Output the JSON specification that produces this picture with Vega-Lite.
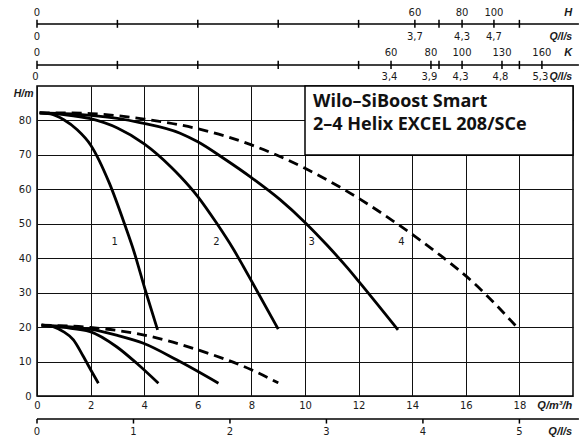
{
  "$schema": "https://vega.github.io/schema/vega-lite/v6.json",
  "width": 536,
  "height": 310,
  "autosize": {"type": "none"},
  "padding": {"left": 37, "top": 86, "right": 6, "bottom": 45},
  "background": "white",
  "config": {
    "view": {"stroke": "#000", "strokeWidth": 1.5},
    "font": "DejaVu Sans",
    "text": {"font": "DejaVu Sans", "fontSize": 10, "color": "#1a1a1a"}
  },
  "resolve": {"axis": {"x": "independent", "y": "independent"}},
  "datasets": {
    "curves": [
      {"curve": "1", "dashed": false, "x": 0.1, "y": 82.2},
      {"curve": "1", "dashed": false, "x": 0.5, "y": 81.9},
      {"curve": "1", "dashed": false, "x": 1.0, "y": 80.2},
      {"curve": "1", "dashed": false, "x": 1.5, "y": 77.3},
      {"curve": "1", "dashed": false, "x": 2.0, "y": 72.9},
      {"curve": "1", "dashed": false, "x": 2.7, "y": 61.8},
      {"curve": "1", "dashed": false, "x": 3.3, "y": 49.2},
      {"curve": "1", "dashed": false, "x": 3.6, "y": 42.4},
      {"curve": "1", "dashed": false, "x": 4.03, "y": 31.0},
      {"curve": "1", "dashed": false, "x": 4.5, "y": 19.2},
      {"curve": "2", "dashed": false, "x": 0.1, "y": 82.2},
      {"curve": "2", "dashed": false, "x": 1.0, "y": 81.7},
      {"curve": "2", "dashed": false, "x": 2.0, "y": 80.5},
      {"curve": "2", "dashed": false, "x": 3.0, "y": 77.8},
      {"curve": "2", "dashed": false, "x": 4.0, "y": 73.2},
      {"curve": "2", "dashed": false, "x": 5.0, "y": 66.5},
      {"curve": "2", "dashed": false, "x": 5.34, "y": 63.8},
      {"curve": "2", "dashed": false, "x": 6.0, "y": 57.9},
      {"curve": "2", "dashed": false, "x": 6.7, "y": 50.2},
      {"curve": "2", "dashed": false, "x": 7.33, "y": 42.6},
      {"curve": "2", "dashed": false, "x": 7.7, "y": 37.6},
      {"curve": "2", "dashed": false, "x": 8.06, "y": 32.6},
      {"curve": "2", "dashed": false, "x": 9.0, "y": 19.4},
      {"curve": "3", "dashed": false, "x": 0.1, "y": 82.2},
      {"curve": "3", "dashed": false, "x": 1.0, "y": 82.0},
      {"curve": "3", "dashed": false, "x": 2.0, "y": 81.5},
      {"curve": "3", "dashed": false, "x": 3.0, "y": 80.6},
      {"curve": "3", "dashed": false, "x": 3.84, "y": 79.4},
      {"curve": "3", "dashed": false, "x": 5.34, "y": 76.3},
      {"curve": "3", "dashed": false, "x": 6.0, "y": 73.8},
      {"curve": "3", "dashed": false, "x": 7.0, "y": 68.8},
      {"curve": "3", "dashed": false, "x": 8.0, "y": 63.4},
      {"curve": "3", "dashed": false, "x": 9.07, "y": 57.0},
      {"curve": "3", "dashed": false, "x": 10.0, "y": 50.4},
      {"curve": "3", "dashed": false, "x": 10.81, "y": 43.9},
      {"curve": "3", "dashed": false, "x": 11.56, "y": 37.4},
      {"curve": "3", "dashed": false, "x": 11.98, "y": 33.5},
      {"curve": "3", "dashed": false, "x": 13.47, "y": 19.2},
      {"curve": "4", "dashed": true, "x": 0.1, "y": 82.2},
      {"curve": "4", "dashed": true, "x": 1.0, "y": 82.2},
      {"curve": "4", "dashed": true, "x": 2.0, "y": 82.0},
      {"curve": "4", "dashed": true, "x": 4.0, "y": 80.4},
      {"curve": "4", "dashed": true, "x": 5.34, "y": 78.7},
      {"curve": "4", "dashed": true, "x": 6.0, "y": 77.6},
      {"curve": "4", "dashed": true, "x": 8.0, "y": 72.9},
      {"curve": "4", "dashed": true, "x": 10.0, "y": 66.1},
      {"curve": "4", "dashed": true, "x": 12.0, "y": 57.4},
      {"curve": "4", "dashed": true, "x": 13.42, "y": 50.1},
      {"curve": "4", "dashed": true, "x": 15.04, "y": 40.9},
      {"curve": "4", "dashed": true, "x": 16.3, "y": 32.8},
      {"curve": "4", "dashed": true, "x": 18.0, "y": 19.2},
      {"curve": "1p", "dashed": false, "x": 0.17, "y": 20.6},
      {"curve": "1p", "dashed": false, "x": 0.6, "y": 20.1},
      {"curve": "1p", "dashed": false, "x": 0.98, "y": 18.7},
      {"curve": "1p", "dashed": false, "x": 1.36, "y": 16.3},
      {"curve": "1p", "dashed": false, "x": 1.72, "y": 11.6},
      {"curve": "1p", "dashed": false, "x": 2.04, "y": 7.1},
      {"curve": "1p", "dashed": false, "x": 2.29, "y": 3.7},
      {"curve": "2p", "dashed": false, "x": 0.17, "y": 20.6},
      {"curve": "2p", "dashed": false, "x": 1.0, "y": 19.9},
      {"curve": "2p", "dashed": false, "x": 1.98, "y": 18.7},
      {"curve": "2p", "dashed": false, "x": 2.97, "y": 14.3},
      {"curve": "2p", "dashed": false, "x": 3.72, "y": 9.5},
      {"curve": "2p", "dashed": false, "x": 4.53, "y": 3.7},
      {"curve": "3p", "dashed": false, "x": 0.17, "y": 20.6},
      {"curve": "3p", "dashed": false, "x": 1.0, "y": 20.2},
      {"curve": "3p", "dashed": false, "x": 1.98, "y": 19.4},
      {"curve": "3p", "dashed": false, "x": 3.0, "y": 17.6},
      {"curve": "3p", "dashed": false, "x": 3.97, "y": 15.3},
      {"curve": "3p", "dashed": false, "x": 5.21, "y": 10.5},
      {"curve": "3p", "dashed": false, "x": 6.77, "y": 3.7},
      {"curve": "4p", "dashed": true, "x": 0.17, "y": 20.6},
      {"curve": "4p", "dashed": true, "x": 1.98, "y": 19.9},
      {"curve": "4p", "dashed": true, "x": 4.0, "y": 17.7},
      {"curve": "4p", "dashed": true, "x": 6.0, "y": 13.4},
      {"curve": "4p", "dashed": true, "x": 8.0, "y": 7.6},
      {"curve": "4p", "dashed": true, "x": 9.0, "y": 3.8}
    ],
    "curveLabels": [
      {"label": "1", "x": 2.9, "y": 44.8},
      {"label": "2", "x": 6.7, "y": 44.8},
      {"label": "3", "x": 10.25, "y": 44.8},
      {"label": "4", "x": 13.6, "y": 44.8}
    ],
    "topAxes": [
      {"axis": "H", "x": 0, "above": "0", "below": "0"},
      {"axis": "H", "x": 3, "above": "", "below": ""},
      {"axis": "H", "x": 6, "above": "", "below": ""},
      {"axis": "H", "x": 9, "above": "", "below": ""},
      {"axis": "H", "x": 12, "above": "", "below": ""},
      {"axis": "H", "x": 14.1, "above": "60", "below": "3,7"},
      {"axis": "H", "x": 15, "above": "", "below": ""},
      {"axis": "H", "x": 15.86, "above": "80", "below": "4,3"},
      {"axis": "H", "x": 17.05, "above": "100", "below": "4,7"},
      {"axis": "H", "x": 18, "above": "", "below": ""},
      {"axis": "K", "x": 0, "above": "0", "below": "0"},
      {"axis": "K", "x": 3, "above": "", "below": ""},
      {"axis": "K", "x": 6, "above": "", "below": ""},
      {"axis": "K", "x": 9, "above": "", "below": ""},
      {"axis": "K", "x": 12, "above": "", "below": ""},
      {"axis": "K", "x": 13.21, "above": "60", "below": "3,4"},
      {"axis": "K", "x": 14.7, "above": "80", "below": "3,9"},
      {"axis": "K", "x": 15, "above": "", "below": ""},
      {"axis": "K", "x": 15.86, "above": "100", "below": "4,3"},
      {"axis": "K", "x": 17.35, "above": "130", "below": "4,8"},
      {"axis": "K", "x": 18, "above": "", "below": ""},
      {"axis": "K", "x": 18.84, "above": "160", "below": "5,3"}
    ],
    "lsTicks": [
      {"x": 0, "label": "0"},
      {"x": 3.6, "label": "1"},
      {"x": 7.2, "label": "2"},
      {"x": 10.8, "label": "3"},
      {"x": 14.4, "label": "4"},
      {"x": 18, "label": "5"}
    ],
    "one": [{}]
  },
  "layer": [
    {
      "data": {"name": "curves"},
      "transform": [{"filter": "!datum.dashed"}],
      "mark": {"type": "line", "color": "#000", "strokeWidth": 2.8, "interpolate": "monotone", "clip": false},
      "encoding": {
        "x": {
          "field": "x", "type": "quantitative",
          "scale": {"domain": [0, 20], "nice": false, "zero": false},
          "axis": {
            "values": [0, 2, 4, 6, 8, 10, 12, 14, 16, 18],
            "grid": true, "gridColor": "#111", "gridWidth": 1,
            "ticks": false, "domain": false, "labelPadding": 4,
            "labelFontSize": 10, "labelColor": "#1a1a1a", "labelFont": "DejaVu Sans",
            "labelFlush": false, "title": null
          }
        },
        "y": {
          "field": "y", "type": "quantitative",
          "scale": {"domain": [0, 90], "nice": false, "zero": false},
          "axis": {
            "values": [0, 10, 20, 30, 40, 50, 60, 70, 80],
            "grid": true, "gridColor": "#111", "gridWidth": 1,
            "ticks": false, "domain": false, "labelPadding": 6,
            "labelFontSize": 10, "labelColor": "#1a1a1a", "labelFont": "DejaVu Sans",
            "title": "H/m", "titleAngle": 0, "titleX": -4, "titleY": 7,
            "titleAlign": "right", "titleBaseline": "middle",
            "titleFontSize": 10.5, "titleFontWeight": "bold", "titleFontStyle": "italic",
            "titleFont": "Liberation Sans", "titleColor": "#1a1a1a"
          }
        },
        "detail": {"field": "curve"}
      }
    },
    {
      "data": {"name": "curves"},
      "transform": [{"filter": "datum.dashed"}],
      "mark": {"type": "line", "color": "#000", "strokeWidth": 2.8, "strokeDash": [10, 6], "interpolate": "monotone", "clip": false},
      "encoding": {
        "x": {"field": "x", "type": "quantitative", "axis": null},
        "y": {"field": "y", "type": "quantitative", "axis": null},
        "detail": {"field": "curve"}
      }
    },
    {
      "data": {"name": "one"},
      "mark": {"type": "rect", "fill": "white", "stroke": "#000", "strokeWidth": 1.5, "clip": false},
      "encoding": {
        "x": {"datum": 10, "axis": null},
        "x2": {"datum": 20},
        "y": {"datum": 70, "axis": null},
        "y2": {"datum": 90}
      }
    },
    {
      "data": {"values": [{"title": "Wilo–SiBoost Smart\n2–4 Helix EXCEL 208/SCe"}]},
      "mark": {"type": "text", "align": "left", "baseline": "middle", "lineBreak": "\n", "lineHeight": 23, "font": "Open Sans", "fontSize": 18, "fontWeight": "bold", "color": "#111", "clip": false},
      "encoding": {
        "x": {"datum": 10.3, "axis": null},
        "y": {"datum": 85.4, "axis": null},
        "text": {"field": "title"}
      }
    },
    {
      "data": {"name": "curveLabels"},
      "mark": {"type": "text", "align": "center", "baseline": "middle", "fontSize": 10, "clip": false},
      "encoding": {
        "x": {"field": "x", "type": "quantitative", "axis": null},
        "y": {"field": "y", "type": "quantitative", "axis": null},
        "text": {"field": "label"}
      }
    },
    {
      "data": {"name": "one"},
      "mark": {"type": "rule", "color": "#000", "strokeWidth": 1.5, "clip": false},
      "encoding": {"x": {"datum": 0, "axis": null}, "x2": {"datum": 20.22}, "y": {"datum": 108, "axis": null}}
    },
    {
      "data": {"name": "topAxes"},
      "transform": [{"filter": "datum.axis === 'H'"}],
      "mark": {"type": "rule", "color": "#000", "strokeWidth": 1.5, "clip": false},
      "encoding": {"x": {"field": "x", "type": "quantitative", "axis": null}, "y": {"datum": 109.2, "axis": null}, "y2": {"datum": 106.9}}
    },
    {
      "data": {"name": "topAxes"},
      "transform": [{"filter": "datum.axis === 'H'"}],
      "mark": {"type": "text", "align": "center", "baseline": "middle", "clip": false},
      "encoding": {"x": {"field": "x", "type": "quantitative", "axis": null}, "y": {"datum": 111.3, "axis": null}, "text": {"field": "above"}}
    },
    {
      "data": {"name": "topAxes"},
      "transform": [{"filter": "datum.axis === 'H'"}],
      "mark": {"type": "text", "align": "center", "baseline": "middle", "clip": false},
      "encoding": {"x": {"field": "x", "type": "quantitative", "axis": null}, "y": {"datum": 104.2, "axis": null}, "text": {"field": "below"}}
    },
    {
      "data": {"name": "one"},
      "mark": {"type": "rule", "color": "#000", "strokeWidth": 1.5, "clip": false},
      "encoding": {"x": {"datum": 0, "axis": null}, "x2": {"datum": 20.22}, "y": {"datum": 96.1, "axis": null}}
    },
    {
      "data": {"name": "topAxes"},
      "transform": [{"filter": "datum.axis === 'K'"}],
      "mark": {"type": "rule", "color": "#000", "strokeWidth": 1.5, "clip": false},
      "encoding": {"x": {"field": "x", "type": "quantitative", "axis": null}, "y": {"datum": 97.3, "axis": null}, "y2": {"datum": 94.9}}
    },
    {
      "data": {"name": "topAxes"},
      "transform": [{"filter": "datum.axis === 'K'"}],
      "mark": {"type": "text", "align": "center", "baseline": "middle", "clip": false},
      "encoding": {"x": {"field": "x", "type": "quantitative", "axis": null}, "y": {"datum": 99.6, "axis": null}, "text": {"field": "above"}}
    },
    {
      "data": {"name": "topAxes"},
      "transform": [{"filter": "datum.axis === 'K'"}],
      "mark": {"type": "text", "align": "center", "baseline": "middle", "dx": -1.5, "clip": false},
      "encoding": {"x": {"field": "x", "type": "quantitative", "axis": null}, "y": {"datum": 92.6, "axis": null}, "text": {"field": "below"}}
    },
    {
      "data": {"name": "one"},
      "mark": {"type": "text", "text": "H", "align": "right", "baseline": "middle", "font": "Liberation Sans", "fontWeight": "bold", "fontStyle": "italic", "fontSize": 11, "clip": false},
      "encoding": {"x": {"datum": 19.97, "axis": null}, "y": {"datum": 111.3, "axis": null}}
    },
    {
      "data": {"name": "one"},
      "mark": {"type": "text", "text": "Q/l/s", "align": "right", "baseline": "middle", "font": "Liberation Sans", "fontWeight": "bold", "fontStyle": "italic", "fontSize": 10.5, "clip": false},
      "encoding": {"x": {"datum": 19.97, "axis": null}, "y": {"datum": 104.2, "axis": null}}
    },
    {
      "data": {"name": "one"},
      "mark": {"type": "text", "text": "K", "align": "right", "baseline": "middle", "font": "Liberation Sans", "fontWeight": "bold", "fontStyle": "italic", "fontSize": 11, "clip": false},
      "encoding": {"x": {"datum": 19.97, "axis": null}, "y": {"datum": 99.6, "axis": null}}
    },
    {
      "data": {"name": "one"},
      "mark": {"type": "text", "text": "Q/l/s", "align": "right", "baseline": "middle", "font": "Liberation Sans", "fontWeight": "bold", "fontStyle": "italic", "fontSize": 10.5, "clip": false},
      "encoding": {"x": {"datum": 19.97, "axis": null}, "y": {"datum": 92.6, "axis": null}}
    },
    {
      "data": {"name": "one"},
      "mark": {"type": "text", "text": "Q/m³/h", "align": "right", "baseline": "middle", "font": "Liberation Sans", "fontWeight": "bold", "fontStyle": "italic", "fontSize": 11, "clip": false},
      "encoding": {"x": {"datum": 19.97, "axis": null}, "y": {"datum": -2.9, "axis": null}}
    },
    {
      "data": {"name": "one"},
      "mark": {"type": "rule", "color": "#000", "strokeWidth": 1.5, "clip": false},
      "encoding": {"x": {"datum": 0, "axis": null}, "x2": {"datum": 20.22}, "y": {"datum": -6.68, "axis": null}}
    },
    {
      "data": {"name": "lsTicks"},
      "mark": {"type": "rule", "color": "#000", "strokeWidth": 1.5, "clip": false},
      "encoding": {"x": {"field": "x", "type": "quantitative", "axis": null}, "y": {"datum": -6.68, "axis": null}, "y2": {"datum": -8.0}}
    },
    {
      "data": {"name": "lsTicks"},
      "mark": {"type": "text", "align": "center", "baseline": "middle", "clip": false},
      "encoding": {"x": {"field": "x", "type": "quantitative", "axis": null}, "y": {"datum": -10.4, "axis": null}, "text": {"field": "label"}}
    },
    {
      "data": {"name": "one"},
      "mark": {"type": "text", "text": "Q/l/s", "align": "right", "baseline": "middle", "font": "Liberation Sans", "fontWeight": "bold", "fontStyle": "italic", "fontSize": 11, "clip": false},
      "encoding": {"x": {"datum": 19.97, "axis": null}, "y": {"datum": -10.4, "axis": null}}
    }
  ]
}
